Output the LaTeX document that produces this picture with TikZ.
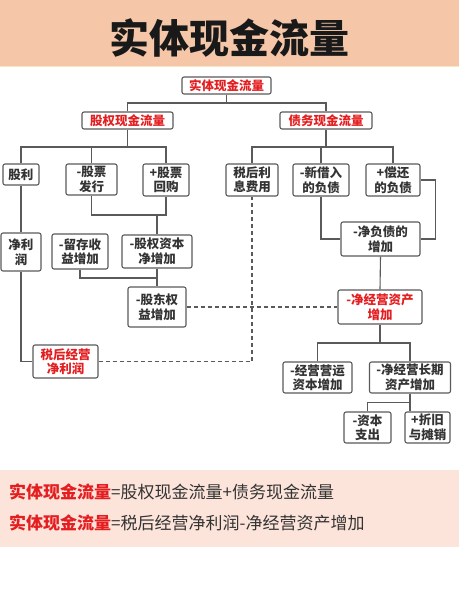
\documentclass[tikz,border=0pt]{standalone}
\usepackage{fontspec}
\setmainfont{Noto Sans CJK SC}
\definecolor{band}{HTML}{F5C7A8}
\definecolor{lowband}{HTML}{FCE4DA}
\definecolor{redtxt}{HTML}{E41E20}
\definecolor{txt}{HTML}{333333}
\definecolor{edge}{HTML}{5A5A5A}
\begin{document}
\begin{tikzpicture}[x=1pt,y=-1pt,
  box/.style={draw=edge,line width=1.1pt,rounded corners=2pt,fill=white,inner sep=0pt,
    align=center,text=txt,font=\fontsize{12.5}{14.5}\selectfont\bfseries},
  rbox/.style={box,text=redtxt},
  conn/.style={draw=edge,line width=1.1pt},
  dashconn/.style={draw=edge,line width=1.1pt,dash pattern=on 4pt off 3pt}]
\useasboundingbox (0,0) rectangle (459,600);
\fill[white] (0,0) rectangle (459,600);
\fill[band] (0,0) rectangle (459,66);
\draw[color={rgb,255:red,245;green,232;blue,190},line width=1pt] (0,66.5) -- (459,66.5);
\node[text=black!90,font=\fontsize{40}{44}\selectfont\bfseries] (title) at (229.5,38) {实体现金流量};
\fill[lowband] (0,470) rectangle (459,547);
\node[anchor=west,inner sep=0pt,font=\fontsize{17}{20}\selectfont] (f1) at (9,492) {\textcolor{redtxt}{\bfseries 实体现金流量}\textcolor{txt}{=股权现金流量+债务现金流量}};
\node[anchor=west,inner sep=0pt,font=\fontsize{17}{20}\selectfont] (f2) at (9,523) {\textcolor{redtxt}{\bfseries 实体现金流量}\textcolor{txt}{=税后经营净利润-净经营资产增加}};

\node[rbox,minimum width=89pt,minimum height=17pt] (top) at (226.5,85.5) {实体现金流量};
\node[rbox,minimum width=91pt,minimum height=17pt] (eq) at (127.5,120.5) {股权现金流量};
\node[rbox,minimum width=92pt,minimum height=17pt] (debt) at (326,120.5) {债务现金流量};
\node[box,minimum width=36pt,minimum height=21pt] (div) at (21,174.5) {股利};
\node[box,minimum width=51pt,minimum height=31pt] (iss) at (91.5,179.5) {-股票\\发行};
\node[box,minimum width=46pt,minimum height=32pt] (buy) at (166,180) {+股票\\回购};
\node[box,minimum width=52pt,minimum height=32pt] (int) at (252,180) {税后利\\息费用};
\node[box,minimum width=56pt,minimum height=32pt] (newd) at (321,180) {-新借入\\的负债};
\node[box,minimum width=54pt,minimum height=32pt] (rep) at (393,180) {+偿还\\的负债};
\node[box,minimum width=40pt,minimum height=38pt] (ni) at (21,252) {净利\\润};
\node[box,minimum width=56pt,minimum height=35pt] (ret) at (80,251.5) {-留存收\\益增加};
\node[box,minimum width=70pt,minimum height=33pt] (cap) at (157,251.5) {-股权资本\\净增加};
\node[box,minimum width=58pt,minimum height=40pt] (seq) at (157,307) {-股东权\\益增加};
\node[rbox,minimum width=65pt,minimum height=33pt] (nopat) at (65.5,361.5) {税后经营\\净利润};
\node[box,minimum width=79pt,minimum height=34pt] (nd) at (380.5,239) {-净负债的\\增加};
\node[rbox,minimum width=84pt,minimum height=34pt] (noa) at (380,307) {-净经营资产\\增加};
\node[box,minimum width=69pt,minimum height=31pt] (wc) at (317.5,377.5) {-经营营运\\资本增加};
\node[box,minimum width=81pt,minimum height=31pt] (lt) at (410,377.5) {-净经营长期\\资产增加};
\node[box,minimum width=47pt,minimum height=31pt] (capex) at (367.5,427.5) {-资本\\支出};
\node[box,minimum width=45pt,minimum height=31pt] (dep) at (427.5,427.5) {+折旧\\与摊销};

\draw[conn] (top.south) -- (top.south |- 0,103) -| (eq.north);
\draw[conn] (top.south |- 0,103) -| (debt.north);
\draw[conn] (eq.south) -- (eq.south |- 0,147);
\draw[conn] (div.north) -- (div.north |- 0,147) -- (buy.north |- 0,147) -- (buy.north);
\draw[conn] (iss.north) -- (iss.north |- 0,147);
\draw[conn] (debt.south) -- (debt.south |- 0,147);
\draw[conn] (int.north) -- (int.north |- 0,147) -- (rep.north |- 0,147) -- (rep.north);
\draw[conn] (newd.north) -- (newd.north |- 0,147);
\draw[conn] (iss.south) -- (iss.south |- 0,215) -- (buy.south |- 0,215) -- (buy.south);
\draw[conn] (cap.north) -- (cap.north |- 0,215);
\draw[conn] (div.south) -- (ni.north);
\draw[conn] (ret.south) -- (ret.south |- 0,278) -- (cap.south |- 0,278);
\draw[conn] (cap.south) -- (seq.north);
\draw[conn] (ni.south) |- (nopat.west);
\draw[dashconn] (seq.east) -- (noa.west);
\draw[dashconn] (nopat.east) -| (int.south);
\draw[conn] (newd.south) |- (nd.west);
\draw[conn] (rep.east) -- ++(15,0) |- (nd.east);
\draw[conn] (nd.south) -- (noa.north);
\draw[conn] (noa.south) -- (noa.south |- 0,343);
\draw[conn] (wc.north) -- (wc.north |- 0,343) -- (lt.north |- 0,343) -- (lt.north);
\draw[conn] (lt.south) -- ++(0,9) coordinate (b4);
\draw[conn] (capex.north) |- (b4) -- (b4 |- dep.north);
\end{tikzpicture}
\end{document}
